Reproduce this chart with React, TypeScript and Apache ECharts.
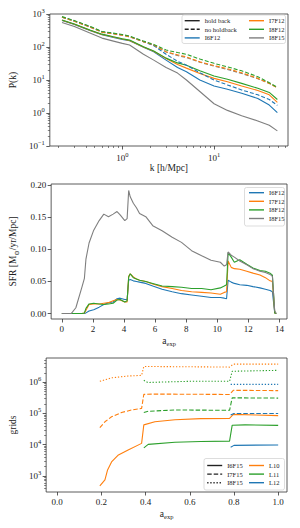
import React, { useEffect, useRef } from 'react';
import * as echarts from 'echarts';

// ---------- Panel 1: power spectrum ----------
const kValues = [0.22, 0.3, 0.45, 0.6, 0.8, 1.0, 1.2, 1.7, 2.2, 3, 4, 5, 7, 10, 14, 20, 30, 40, 49];
const pkI6F12Hold = [631, 479, 309, 234, 195, 170, 155, 98, 72, 40, 24, 17.8, 10, 6.6, 5.25, 3.98, 2.75, 1.74, 1.02];
const pkI7F12Hold = [646, 490, 316, 240, 200, 174, 158, 100, 74, 45, 29.5, 22.9, 15.8, 11.2, 8.9, 6.6, 4.8, 3.55, 2.09];
const pkI8F12Hold = [661, 501, 324, 245, 204, 178, 162, 102, 76, 46, 33, 28, 19, 13.2, 10.5, 7.9, 5.6, 4.2, 2.57];
const pkI8F15Hold = [550, 417, 263, 186, 151, 129, 115, 60, 40, 24, 16.2, 10, 4.47, 1.91, 1.2, 0.83, 0.575, 0.427, 0.288];
const pkI6F12NoHold = [813, 617, 407, 288, 257, 234, 209, 145, 110, 60, 37, 28, 16.6, 10, 7.1, 5.0, 3.55, 2.57, 1.7];
const pkI7F12NoHold = [794, 603, 398, 282, 251, 229, 204, 145, 115, 72, 58, 50, 35.5, 27.5, 21.9, 16.6, 11.2, 7.9, 5.75];
const pkI8F12NoHold = [832, 631, 417, 295, 263, 240, 214, 151, 120, 81, 68, 60, 43, 32, 25, 19, 12.6, 8.3, 6.0];
const pkI8F15NoHold = [794, 603, 398, 282, 251, 229, 204, 145, 112, 71, 55, 48, 34.7, 26.3, 20.9, 15.8, 11, 7.9, 5.9];
const kMajorTicks = [1, 10];
const kMinorTicks = [0.2, 0.3, 0.4, 0.5, 0.6, 0.7, 0.8, 0.9, 2, 3, 4, 5, 6, 7, 8, 9, 20, 30, 40, 50, 60];
const pkMajorTicks = [0.1, 1, 10, 100, 1000];
const pkMinorTicks = [0.2, 0.3, 0.4, 0.5, 0.6, 0.7, 0.8, 0.9, 2, 3, 4, 5, 6, 7, 8, 9, 20, 30, 40, 50, 60, 70, 80, 90, 200, 300, 400, 500, 600, 700, 800, 900];

// ---------- Panel 2: SFR ----------
const sfrTime = [0, 0.6, 0.9, 1.3, 1.45, 1.55, 1.75, 2.05, 2.4, 2.7, 3.0, 3.3, 3.55, 3.75, 4.05, 4.2, 4.3, 4.4, 4.6, 4.8, 5.0, 5.4, 5.85, 6.45, 7.1, 7.7, 8.35, 9.0, 9.6, 10.2, 10.45, 10.6, 10.7, 10.9, 11.1, 11.45, 11.9, 12.3, 12.75, 13.1, 13.4, 13.55, 13.7, 13.8];
const sfrI6F12 = [0, 0, 0, 0, 0, 0.001, 0.004, 0.006, 0.01, 0.014, 0.017, 0.018, 0.023, 0.024, 0.022, 0.022, 0.052, 0.053, 0.051, 0.05, 0.049, 0.047, 0.043, 0.038, 0.034, 0.031, 0.029, 0.027, 0.025, 0.025, 0.024, 0.023, 0.052, 0.049, 0.047, 0.045, 0.044, 0.042, 0.04, 0.038, 0.036, 0.034, 0.001, 0];
const sfrI7F12 = [0, 0, 0, 0, 0.001, 0.005, 0.014, 0.015, 0.015, 0.016, 0.017, 0.02, 0.022, 0.021, 0.018, 0.018, 0.058, 0.062, 0.057, 0.054, 0.052, 0.05, 0.046, 0.042, 0.039, 0.036, 0.034, 0.033, 0.032, 0.03, 0.033, 0.034, 0.082, 0.072, 0.07, 0.069, 0.066, 0.063, 0.06, 0.056, 0.051, 0.05, 0.001, 0];
const sfrI8F12 = [0, 0, 0, 0, 0.001, 0.008, 0.015, 0.016, 0.015, 0.014, 0.015, 0.016, 0.021, 0.022, 0.018, 0.02, 0.057, 0.062, 0.056, 0.054, 0.052, 0.05, 0.047, 0.043, 0.042, 0.041, 0.039, 0.039, 0.037, 0.04, 0.043, 0.045, 0.095, 0.088, 0.08, 0.084, 0.077, 0.071, 0.067, 0.066, 0.063, 0.06, 0.001, 0];
const sfrI8F15 = [0, 0, 0.009, 0.042, 0.055, 0.085, 0.11, 0.13, 0.145, 0.155, 0.151, 0.155, 0.159, 0.154, 0.145, 0.148, 0.192, 0.182, 0.172, 0.165, 0.156, 0.151, 0.137, 0.129, 0.119, 0.111, 0.098, 0.09, 0.083, 0.08, 0.074, 0.076, 0.096, 0.091, 0.088, 0.082, 0.076, 0.07, 0.066, 0.064, 0.061, 0.058, 0.004, 0];
const sfrTicksX = [0, 2, 4, 6, 8, 10, 12, 14];
const sfrTicksY = [0, 0.05, 0.1, 0.15, 0.2];

// ---------- Panel 3: grids ----------
const aL10I6 = [0.193, 0.216, 0.228, 0.246, 0.277, 0.321, 0.382, 0.392, 0.442, 0.533, 0.65, 0.78, 0.797, 0.9, 1.0];
const gL10I6 = [480, 740, 1550, 2800, 4700, 6800, 11000, 43000, 54000, 63000, 68000, 69000, 93000, 89000, 85000];
const aL10I7 = [0.193, 0.216, 0.246, 0.291, 0.337, 0.382, 0.392, 0.442, 0.6, 0.78, 0.797, 0.9, 1.0];
const gL10I7 = [35000, 54000, 78000, 107000, 129000, 145000, 407000, 417000, 412000, 405000, 550000, 545000, 537000];
const aL10I8 = [0.193, 0.246, 0.321, 0.382, 0.392, 0.5, 0.65, 0.78, 0.797, 0.9, 1.0];
const gL10I8 = [1070000, 1380000, 1580000, 1660000, 3200000, 3150000, 3100000, 3050000, 3800000, 3800000, 3800000];
const aL11I6 = [0.392, 0.412, 0.533, 0.65, 0.78, 0.792, 0.85, 1.0];
const gL11I6 = [7900, 10200, 12000, 12600, 13000, 42000, 43000, 41500];
const aL11I7 = [0.392, 0.412, 0.533, 0.78, 0.792, 1.0];
const gL11I7 = [107000, 117000, 129000, 126000, 316000, 310000];
const aL11I8 = [0.392, 0.41, 0.45, 0.6, 0.78, 0.792, 1.0];
const gL11I8 = [1150000, 980000, 1000000, 1070000, 1070000, 2240000, 2400000];
const aL12I6 = [0.785, 0.8, 1.0];
const gL12I6 = [8300, 9500, 9800];
const aL12I7 = [0.785, 0.8, 1.0];
const gL12I7 = [89000, 100000, 100000];
const aL12I8 = [0.785, 0.8, 1.0];
const gL12I8 = [850000, 850000, 850000];
const aTicks = [0, 0.2, 0.4, 0.6, 0.8, 1.0];
const gMajorTicks = [1000, 10000, 100000, 1000000];
const gMinorTicks = [400, 500, 600, 700, 800, 900, 2000, 3000, 4000, 5000, 6000, 7000, 8000, 9000, 20000, 30000, 40000, 50000, 60000, 70000, 80000, 90000, 200000, 300000, 400000, 500000, 600000, 700000, 800000, 900000, 2000000, 3000000, 4000000, 5000000];

const BLUE = '#1f77b4';
const ORANGE = '#ff7f0e';
const GREEN = '#2ca02c';
const GRAY = '#7f7f7f';
const BLACK = '#222';
const FONT = "'Liberation Serif', 'DejaVu Serif', serif";
const TXT = '#222';
const AX = '#333';

const pair = (xs: number[], ys: number[]) => xs.map((x, i) => [x, ys[i]]);

const supRich = {
  b: { fontSize: 9, fontFamily: FONT, color: TXT },
  s: { fontSize: 6.5, fontFamily: FONT, color: TXT, padding: [0, 0, 7, 0] },
};
const supFmt = (v: number) => {
  const e = Math.round(Math.log10(v));
  return `{b|10}{s|${e < 0 ? '\u2212' + -e : e}}`;
};
const nameStyle = {
  fontSize: 9.5,
  fontFamily: FONT,
  color: TXT,
  rich: {
    sub: { fontSize: 6.5, fontFamily: FONT, color: TXT, padding: [6, 0, 0, 0] },
  },
};

function mainAxis(o: any) {
  const { ticks, labelFmt, rich, ...rest } = o;
  return {
    splitLine: { show: false },
    axisLine: { show: false, onZero: false },
    axisTick: { show: true, length: 3.5, lineStyle: { color: AX, width: 0.8 }, customValues: ticks },
    axisLabel: {
      customValues: ticks,
      formatter: labelFmt,
      rich,
      fontSize: 9,
      fontFamily: FONT,
      color: TXT,
      margin: 5,
      hideOverlap: false,
    },
    nameTextStyle: nameStyle,
    ...rest,
  };
}
function minorAxis(o: any) {
  const { ticks, ...rest } = o;
  return {
    splitLine: { show: false },
    axisLine: { show: false, onZero: false },
    axisTick: { show: true, length: 2, lineStyle: { color: AX, width: 0.6 }, customValues: ticks },
    axisLabel: { show: false },
    ...rest,
  };
}

function line(name: string, xi: number, yi: number, data: any[], color: string, type: any = 'solid', width = 1.1) {
  return {
    name,
    type: 'line',
    xAxisIndex: xi,
    yAxisIndex: yi,
    data,
    symbol: 'none',
    showSymbol: false,
    lineStyle: { color, width, type, cap: 'butt' },
    itemStyle: { color },
    emphasis: { disabled: true },
  };
}

const DASH1 = [4, 2];
const DASH3 = [4.5, 2];
const DOT3 = [1.3, 1.8];

function legend(data: any[], left: number, top: number, formatter?: (n: string) => string) {
  return {
    data,
    left,
    top,
    orient: 'vertical',
    itemWidth: 15,
    itemHeight: 7,
    itemGap: 1.6,
    padding: 0,
    selectedMode: false,
    itemStyle: { opacity: 0 },
    lineStyle: { width: 1.4 },
    textStyle: { fontSize: 6.5, fontFamily: FONT, color: TXT, lineHeight: 7 },
    formatter,
  };
}

export default function App() {
  const ref = useRef<HTMLDivElement>(null);
  useEffect(() => {
    if (!ref.current) return;
    const chart = echarts.init(ref.current, null, { renderer: 'svg' });
    const gridStyle = { show: true, borderColor: AX, borderWidth: 0.8, backgroundColor: 'transparent' };
    const option: any = {
      animation: false,
      grid: [
        { left: 46, top: 14, width: 242, height: 132, ...gridStyle },
        { left: 46, top: 184, width: 241, height: 135, ...gridStyle },
        { left: 46, top: 358, width: 241, height: 134, ...gridStyle },
      ],
      xAxis: [
        mainAxis({
          type: 'log', gridIndex: 0, position: 'bottom', min: 0.162, max: 64,
          ticks: kMajorTicks, labelFmt: supFmt, rich: supRich,
          name: 'k [h/Mpc]', nameLocation: 'middle', nameGap: 15,
        }),
        minorAxis({ type: 'log', gridIndex: 0, position: 'bottom', min: 0.162, max: 64, ticks: kMinorTicks }),
        mainAxis({
          type: 'value', gridIndex: 1, position: 'bottom', min: -0.69, max: 14.49,
          ticks: sfrTicksX, labelFmt: (v: number) => String(Math.round(v)),
          name: 'a{sub|exp}', nameLocation: 'middle', nameGap: 15,
        }),
        mainAxis({
          type: 'value', gridIndex: 2, position: 'bottom', min: -0.05, max: 1.04,
          ticks: aTicks, labelFmt: (v: number) => v.toFixed(1),
          name: 'a{sub|exp}', nameLocation: 'middle', nameGap: 15,
        }),
      ],
      yAxis: [
        mainAxis({
          type: 'log', gridIndex: 0, position: 'left', min: 0.1, max: 1000,
          ticks: pkMajorTicks, labelFmt: supFmt, rich: supRich,
          name: 'P(k)', nameLocation: 'middle', nameGap: 27, nameRotate: 90,
        }),
        minorAxis({ type: 'log', gridIndex: 0, position: 'left', min: 0.1, max: 1000, ticks: pkMinorTicks }),
        mainAxis({
          type: 'value', gridIndex: 1, position: 'left', min: -0.0085, max: 0.202,
          ticks: sfrTicksY, labelFmt: (v: number) => v.toFixed(2),
          name: 'SFR [M{sub|\u2299}/yr/Mpc]', nameLocation: 'middle', nameGap: 26, nameRotate: 90,
        }),
        mainAxis({
          type: 'log', gridIndex: 2, position: 'left', min: 305, max: 5960000,
          ticks: gMajorTicks, labelFmt: supFmt, rich: supRich,
          name: 'grids', nameLocation: 'middle', nameGap: 21, nameRotate: 90,
        }),
        minorAxis({ type: 'log', gridIndex: 2, position: 'left', min: 305, max: 5960000, ticks: gMinorTicks }),
      ],
      graphic: [
        { type: 'rect', z: 3, shape: { x: 182, y: 15, width: 103.5, height: 28.5, r: 2 }, style: { fill: 'rgba(255,255,255,0.85)', stroke: '#d4d4d4', lineWidth: 0.8 } },
        { type: 'rect', z: 3, shape: { x: 244.5, y: 187.5, width: 40, height: 38.5, r: 2 }, style: { fill: 'rgba(255,255,255,0.85)', stroke: '#d4d4d4', lineWidth: 0.8 } },
        { type: 'rect', z: 3, shape: { x: 204, y: 458.5, width: 80.5, height: 31.5, r: 2 }, style: { fill: 'rgba(255,255,255,0.85)', stroke: '#d4d4d4', lineWidth: 0.8 } },
      ],
      legend: [
        legend(['hold back', 'no holdback', 'I6F12'], 184, 17.2),
        legend(['I7F12', 'I8F12', 'I8F15'], 248.3, 17.2),
        legend(['I6F12 sfr', 'I7F12 sfr', 'I8F12 sfr', 'I8F15 sfr'], 248.3, 189.2, (n) => n.replace(' sfr', '')),
        legend(['I6F15', 'I7F15', 'I8F15 grids'], 206.5, 462, (n) => n.replace(' grids', '')),
        legend(['L10', 'L11', 'L12'], 248.3, 462),
      ],
      series: [
        // panel 1
        line('I6F12', 0, 0, pair(kValues, pkI6F12Hold), BLUE),
        line('I7F12', 0, 0, pair(kValues, pkI7F12Hold), ORANGE),
        line('I8F12', 0, 0, pair(kValues, pkI8F12Hold), GREEN),
        line('I8F15', 0, 0, pair(kValues, pkI8F15Hold), GRAY),
        line('I8F15 no holdback', 0, 0, pair(kValues, pkI8F15NoHold), GRAY, DASH1),
        line('I6F12 no holdback', 0, 0, pair(kValues, pkI6F12NoHold), BLUE, DASH1),
        line('I7F12 no holdback', 0, 0, pair(kValues, pkI7F12NoHold), ORANGE, DASH1),
        line('I8F12 no holdback', 0, 0, pair(kValues, pkI8F12NoHold), GREEN, DASH1),
        line('hold back', 0, 0, [], BLACK),
        line('no holdback', 0, 0, [], BLACK, DASH1),
        // panel 2
        line('I6F12 sfr', 2, 2, pair(sfrTime, sfrI6F12), BLUE),
        line('I7F12 sfr', 2, 2, pair(sfrTime, sfrI7F12), ORANGE),
        line('I8F12 sfr', 2, 2, pair(sfrTime, sfrI8F12), GREEN),
        line('I8F15 sfr', 2, 2, pair(sfrTime, sfrI8F15), GRAY),
        // panel 3
        line('L10 I6F15', 3, 3, pair(aL10I6, gL10I6), ORANGE),
        line('L10 I7F15', 3, 3, pair(aL10I7, gL10I7), ORANGE, DASH3),
        line('L10 I8F15', 3, 3, pair(aL10I8, gL10I8), ORANGE, DOT3),
        line('L11 I6F15', 3, 3, pair(aL11I6, gL11I6), GREEN),
        line('L11 I7F15', 3, 3, pair(aL11I7, gL11I7), GREEN, DASH3),
        line('L11 I8F15', 3, 3, pair(aL11I8, gL11I8), GREEN, DOT3),
        line('L12 I6F15', 3, 3, pair(aL12I6, gL12I6), BLUE),
        line('L12 I7F15', 3, 3, pair(aL12I7, gL12I7), BLUE, DASH3),
        line('L12 I8F15', 3, 3, pair(aL12I8, gL12I8), BLUE, DOT3),
        line('I6F15', 3, 3, [], BLACK),
        line('I7F15', 3, 3, [], BLACK, DASH3),
        line('I8F15 grids', 3, 3, [], BLACK, DOT3),
        line('L10', 3, 3, [], ORANGE),
        line('L11', 3, 3, [], GREEN),
        line('L12', 3, 3, [], BLUE),
      ],
    };
    chart.setOption(option);
    return () => chart.dispose();
  }, []);
  return <div ref={ref} style={{ position: 'absolute', left: 0, top: 0, width: 300, height: 528 }} />;
}
